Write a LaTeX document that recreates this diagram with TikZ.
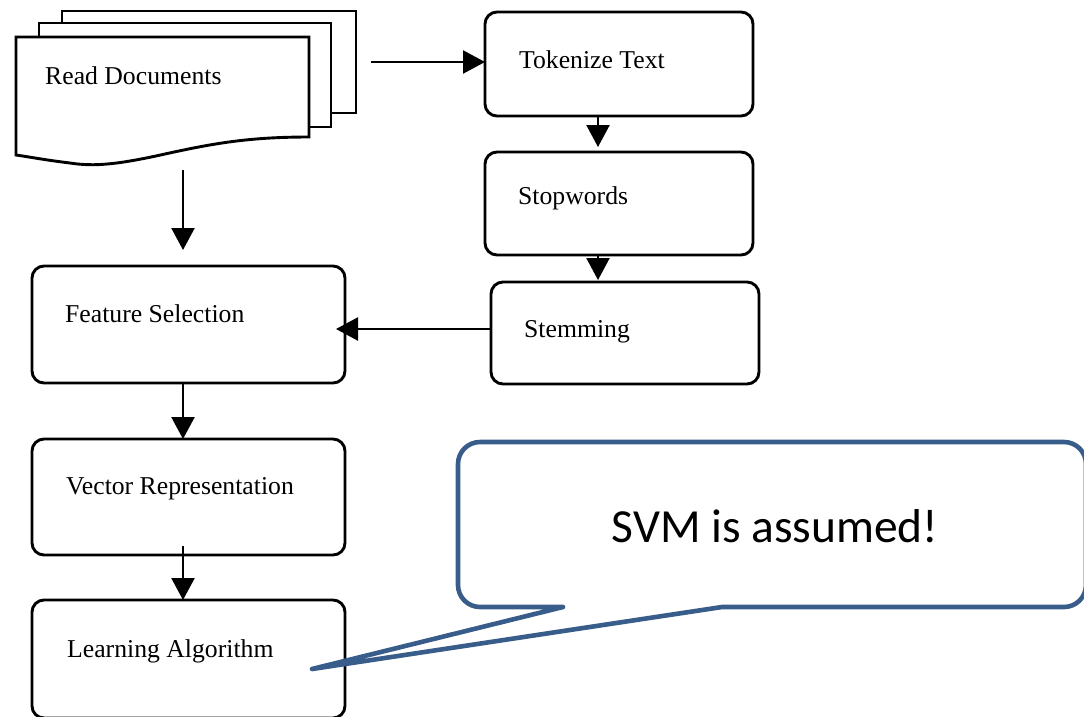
\documentclass[tikz,border=0pt]{standalone}
\usepackage{fontspec}
\setmainfont{Liberation Serif}
\newfontfamily\calloutfont{Carlito}
\usetikzlibrary{arrows.meta}
\definecolor{calloutblue}{RGB}{56,93,138}
\tikzset{
  stepbox/.style={draw=black, line width=2.9pt, rounded corners=12pt, fill=white,
    inner sep=0pt, outer sep=0pt, anchor=north west},
  steplabel/.style={anchor=base west, inner sep=0pt, font=\fontsize{25.7}{30}\selectfont},
  page/.style={draw=black, line width=2.9pt, fill=white, line join=miter},
  flow/.style={draw=black, line width=2.3pt, -{Triangle[length=22pt,width=23pt]}},
  callout/.style={draw=calloutblue, line width=4.6pt, fill=white, line join=round}
}
\begin{document}
\begin{tikzpicture}[x=1pt, y=-1pt]
\useasboundingbox (0,0) rectangle (1084,716);

% stacked document pages (back to front)
\draw[page] (62,11) rectangle (356,113);
\draw[page] (39,23) rectangle (331,127);
\draw[page] (16,155) -- (16,37) -- (309,37) -- (309,137)
  .. controls (250,137) and (215,143) .. (165,154)
  .. controls (120,164) and (95,167) .. (70,163)
  .. controls (45,160) and (30,157) .. cycle;
\node[steplabel] (readT) at (45,84) {Read Documents};
\coordinate (docR) at (371,62);
\coordinate (docB) at (183,170);
\coordinate (fsTop) at (183,250);

% processing steps
\node[stepbox, minimum width=268pt, minimum height=104pt] (tok)   at (485,12)  {};
\node[stepbox, minimum width=268pt, minimum height=103pt] (stop)  at (485,152) {};
\node[stepbox, minimum width=268pt, minimum height=102pt] (stem)  at (491,282) {};
\node[stepbox, minimum width=313pt, minimum height=117pt] (fs)    at (32,266)  {};
\node[stepbox, minimum width=313pt, minimum height=116pt] (vec)   at (32,439)  {};
\node[stepbox, minimum width=313pt, minimum height=118pt] (learn) at (32,600)  {};

\node[steplabel] (tokT)   at (519,68)  {Tokenize Text};
\node[steplabel] (stopT)  at (518,204) {Stopwords};
\node[steplabel] (stemT)  at (524,337) {Stemming};
\node[steplabel] (fsT)    at (65,322)  {Feature Selection};
\node[steplabel] (vecT)   at (66,494)  {Vector Representation};
\node[steplabel] (learnT) at (67,657)  {Learning Algorithm};

% connectors
\coordinate (cR) at (598,0);
\coordinate (cL) at (183,0);
\coordinate (stemOut) at (491,329);
\coordinate (vecOut) at (183,546);
\draw[flow] (docR) -- (docR -| tok.west);
\draw[flow] (docB) -- (fsTop);
\draw[flow, shorten >=5pt] (tok.south -| cR) -- (stop.north -| cR);
\draw[flow, shorten >=2pt] (stop.south -| cR) -- (stem.north -| cR);
\draw[flow, shorten >=-9pt] (stemOut) -- (stemOut -| fs.east);
\draw[flow] (fs.south -| cL) -- (vec.north -| cL);
\draw[flow] (vecOut) -- (learn.north -| cL);

% speech bubble
\draw[callout] (563,607) [rounded corners=22pt] -- (458,607) -- (458,442)
  -- (1086,442) -- (1086,607) [sharp corners] -- (722,607) -- (312,669) -- cycle;
\node[anchor=base, inner sep=0pt, font=\calloutfont\fontsize{47.5}{54}\selectfont]
  (note) at (775,542) {SVM is assumed!};
\end{tikzpicture}
\end{document}
